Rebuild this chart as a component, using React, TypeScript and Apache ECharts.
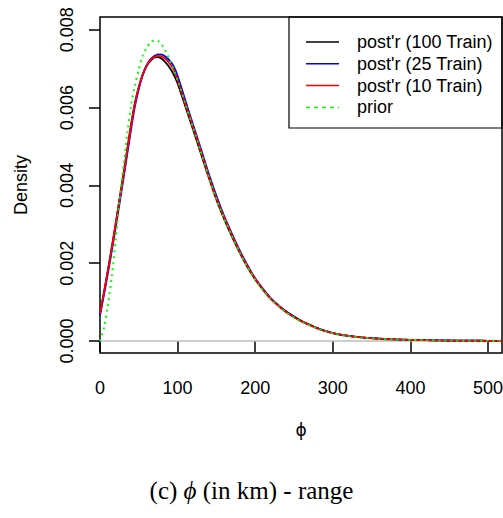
import React, { useEffect, useRef } from "react";
import * as echarts from "echarts";

// phi grid (km)
const phiKm = [0, 5, 10, 15, 20, 25, 30, 35, 40, 45, 50, 55, 60, 65, 70, 75, 80, 85, 90, 95, 100,
  110, 120, 130, 140, 150, 160, 170, 180, 190, 200, 210, 220, 230, 240, 250, 260, 270, 280, 290, 300,
  320, 340, 360, 380, 400, 420, 440, 460, 480, 500, 518];

const post100 = [0.00070, 0.00124, 0.00180, 0.00239, 0.00300, 0.00363, 0.00427, 0.00492, 0.00556, 0.00612, 0.00653, 0.00685, 0.00707, 0.00720, 0.00729, 0.00730, 0.00725, 0.00715, 0.00702, 0.00685, 0.00662,
  0.00603, 0.00543, 0.00482, 0.00421, 0.00363, 0.00313, 0.00268, 0.00227, 0.00190, 0.00158, 0.00132, 0.00109, 0.00091, 0.00076, 0.00063, 0.00051, 0.00042, 0.00033, 0.00026, 0.00020,
  0.00013, 0.000085, 0.000057, 0.00004, 0.000027, 0.000019, 0.000013, 0.000009, 0.000006, 0.000004, 0.000003];

const post25 = [0.00066, 0.00118, 0.00172, 0.00229, 0.00289, 0.00351, 0.00414, 0.00479, 0.00544, 0.00603, 0.00648, 0.00683, 0.00708, 0.00724, 0.00733, 0.00737, 0.00736, 0.00730, 0.00720, 0.00706, 0.00682,
  0.00618, 0.00556, 0.00494, 0.00431, 0.00373, 0.00321, 0.00276, 0.00233, 0.00195, 0.00161, 0.00134, 0.00110, 0.00091, 0.00075, 0.00062, 0.00050, 0.00041, 0.00033, 0.00026, 0.00020,
  0.00013, 0.000086, 0.000058, 0.00004, 0.000028, 0.00002, 0.000013, 0.000009, 0.000006, 0.000004, 0.000003];

const post10 = [0.00070, 0.00123, 0.00178, 0.00236, 0.00297, 0.00360, 0.00423, 0.00488, 0.00553, 0.00610, 0.00652, 0.00685, 0.00708, 0.00722, 0.00730, 0.00733, 0.00731, 0.00724, 0.00713, 0.00697, 0.00671,
  0.00610, 0.00549, 0.00488, 0.00424, 0.00367, 0.00317, 0.00272, 0.00229, 0.00192, 0.00159, 0.00132, 0.00108, 0.00090, 0.00074, 0.00061, 0.00050, 0.00041, 0.00032, 0.00025, 0.00020,
  0.00013, 0.000085, 0.000058, 0.00004, 0.000028, 0.00002, 0.000013, 0.000009, 0.000006, 0.000004, 0.000003];

const prior = [0, 0.00032, 0.00090, 0.00163, 0.00255, 0.00357, 0.00445, 0.00530, 0.00605, 0.00657, 0.00698, 0.00733, 0.00753, 0.00767, 0.00773, 0.00771, 0.00760, 0.00743, 0.00721, 0.00697, 0.00670,
  0.00610, 0.00548, 0.00486, 0.00424, 0.00365, 0.00314, 0.00269, 0.00227, 0.00190, 0.00157, 0.00130, 0.00107, 0.00089, 0.00073, 0.00060, 0.00049, 0.00040, 0.00032, 0.00025, 0.00019,
  0.00012, 0.00008, 0.000055, 0.000038, 0.000026, 0.000018, 0.000012, 0.000008, 0.000005, 0.000003, 0.000002];

const xTicks = [0, 100, 200, 300, 400, 500];
const yTicks = [0, 0.002, 0.004, 0.006, 0.008];
const seriesNames = ["post'r (100 Train)", "post'r (25 Train)", "post'r (10 Train)", "prior"];
const seriesColors = ["#000000", "#0000FF", "#FF0000", "#00FF00"];
const seriesValues = [post100, post25, post10, prior];
const xName = "\u03D5";
const yName = "Density";
const caption = "(c) {i|\u03D5} (in km) - range";

const SANS = "Liberation Sans, Arial, sans-serif";
const SERIF = "Liberation Serif, Times New Roman, serif";

export default function App() {
  const ref = useRef<HTMLDivElement>(null);
  useEffect(() => {
    const chart = echarts.init(ref.current!, null, { renderer: "svg" });
    const series: any[] = seriesValues.map((vals, k) => ({
      type: "line",
      name: seriesNames[k],
      data: phiKm.map((x, i) => [x, vals[i]]),
      showSymbol: false,
      symbol: "none",
      smooth: 0.3,
      lineStyle: {
        color: seriesColors[k],
        width: k === 3 ? 2 : 1.8,
        type: k === 3 ? [2, 4] : "solid",
      },
      z: 3 + k,
      silent: true,
    }));
    series[0].markLine = {
      silent: true,
      symbol: ["none", "none"],
      label: { show: false },
      lineStyle: { color: "#BEBEBE", width: 1.5, type: "solid" },
      data: [{ yAxis: 0 }],
      z: 1,
    };

    const rowY = (i: number) => 42 + i * 21.8;
    const legendEls: any[] = [
      {
        type: "rect",
        shape: { x: 289, y: 17, width: 213, height: 111 },
        style: { fill: "none", stroke: "#000", lineWidth: 1.2 },
      },
    ];
    seriesNames.forEach((nm, i) => {
      legendEls.push({
        type: "line",
        shape: { x1: 306, y1: rowY(i), x2: 339, y2: rowY(i) },
        style: {
          stroke: seriesColors[i],
          lineWidth: 1.5,
          lineDash: i === 3 ? [4, 4] : null,
        },
      });
      legendEls.push({
        type: "text",
        x: 357,
        y: rowY(i),
        style: {
          text: nm,
          fontSize: 18,
          fontFamily: SANS,
          fill: "#000",
          verticalAlign: "middle",
          align: "left",
        },
      });
    });

    chart.setOption({
      animation: false,
      backgroundColor: "#fff",
      title: {
        text: caption,
        left: "center",
        top: 473,
        textStyle: {
          fontFamily: SERIF,
          fontSize: 25,
          fontWeight: "normal",
          color: "#000",
          rich: {
            i: { fontFamily: SERIF, fontSize: 25, fontStyle: "italic", color: "#000" },
          },
        },
      },
      grid: {
        left: 100,
        right: 1,
        top: 17,
        bottom: 165,
        show: true,
        borderColor: "#000",
        borderWidth: 1.5,
        backgroundColor: "transparent",
        containLabel: false,
        outerBoundsMode: "none",
      },
      xAxis: {
        type: "value",
        min: 0,
        max: 518,
        name: xName,
        nameLocation: "middle",
        nameGap: 68,
        nameTextStyle: { fontFamily: "DejaVu Sans, " + SANS, fontSize: 17, color: "#000" },
        axisLine: { show: false },
        axisTick: {
          show: true,
          length: 11,
          customValues: xTicks,
          lineStyle: { color: "#000", width: 1.5 },
        },
        axisLabel: {
          show: true,
          customValues: xTicks,
          margin: 26,
          fontSize: 18,
          fontFamily: SANS,
          color: "#000",
          formatter: (v: number) => String(v),
        },
        splitLine: { show: false },
      },
      yAxis: {
        type: "value",
        min: -0.00031,
        max: 0.00833,
        name: yName,
        nameLocation: "middle",
        nameGap: 70,
        nameRotate: 90,
        nameTextStyle: { fontFamily: SANS, fontSize: 18, color: "#000" },
        axisLine: { show: false },
        axisTick: {
          show: true,
          length: 11,
          customValues: yTicks,
          lineStyle: { color: "#000", width: 1.5 },
        },
        axisLabel: {
          show: true,
          customValues: yTicks,
          rotate: 90,
          margin: 24,
          fontSize: 18,
          fontFamily: SANS,
          color: "#000",
          formatter: (v: number) => v.toFixed(3),
        },
        splitLine: { show: false },
      },
      graphic: legendEls,
      series,
    });
    return () => chart.dispose();
  }, []);
  return (
    <div
      ref={ref}
      style={{ position: "fixed", left: 0, top: 0, width: 503, height: 518 }}
    />
  );
}
